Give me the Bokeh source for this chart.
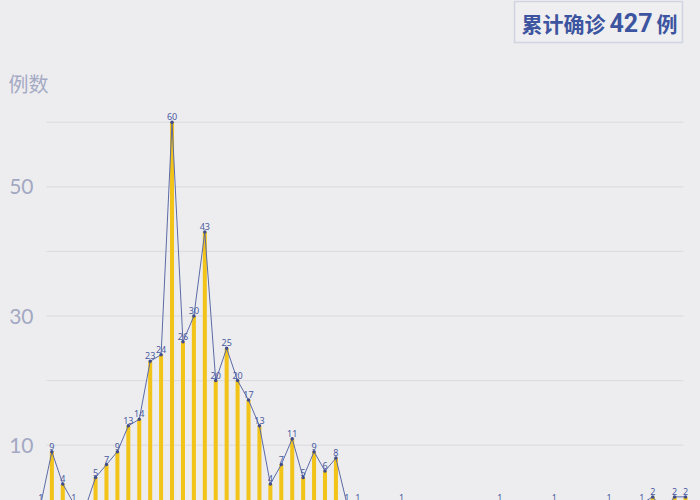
from bokeh.plotting import figure
from bokeh.models import ColumnDataSource, FixedTicker, Label, BoxAnnotation, Range1d
from bokeh.core.properties import value
from bokeh.embed import file_html
from bokeh.resources import INLINE

# ---- data ----
days = list(range(60))
cases = [1, 9, 4, 1, 0, 5, 7, 9, 13, 14,
         23, 24, 60, 26, 30, 43, 20, 25, 20, 17,
         13, 4, 7, 11, 5, 9, 6, 8, 1, 1,
         0, 0, 0, 1, 0, 0, 0, 0, 0, 0,
         0, 0, 1, 0, 0, 0, 0, 1, 0, 0,
         0, 0, 1, 0, 0, 1, 2, 0, 2, 2]
y_tick_labels = [10, 30, 50]
grid_values = [10, 20, 30, 40, 50, 60]
total_text = "累计确诊"
total_value = "427"
total_unit = "例"
y_title = "例数"

labels = [str(c) if c else "" for c in cases]

BG = "#EDEDEF"

src = ColumnDataSource(dict(x=days, v=cases, lbl=labels))

p = figure(width=700, height=500, output_backend="svg", toolbar_location=None,
           x_range=Range1d(-3.70, 60.37), y_range=Range1d(1.44, 78.84),
           min_border_left=0, min_border_right=0, min_border_top=0, min_border_bottom=0)
p.background_fill_color = BG
p.border_fill_color = BG
p.outline_line_color = None
p.xaxis.visible = False
p.xgrid.visible = False
p.ygrid.visible = False

ya = p.yaxis[0]
ya.fixed_location = -0.13
ya.ticker = FixedTicker(ticks=y_tick_labels)
ya.axis_line_color = None
ya.major_tick_line_color = None
ya.minor_tick_line_color = None
ya.major_label_standoff = 0
ya.major_label_text_font_size = "21px"
ya.major_label_text_color = "#A3A8C2"
ya.major_label_text_font = "Lato"

# gridlines (limited horizontal extent)
p.segment(x0=[0.51] * len(grid_values), x1=[58.81] * len(grid_values),
          y0=grid_values, y1=grid_values, line_color="#DADADF", line_width=1)

p.vbar(x="x", top="v", bottom=0, width=0.37, source=src,
       fill_color="#F2C318", line_color=None)
p.line(x="x", y="v", source=src, line_color="#5B6AA5", line_width=1)
p.scatter(x="x", y="v", source=src, size=3.5, fill_color="#3F4D8A", line_color=None)
p.text(x="x", y="v", text="lbl", source=src, text_align="center", text_baseline="bottom",
       y_offset=-2, text_font_size="9px", text_color="#4A5AA0", text_font=value("Noto Sans"))

# total box
p.add_layout(BoxAnnotation(left=43.35, right=58.72, top=78.68, bottom=72.34,
                           fill_color="#EFEFF1", fill_alpha=1.0,
                           line_color="#8D99BC", line_width=1.5, level="underlay"))
common = dict(x_units="screen", y_units="screen", text_baseline="middle",
              text_color="#3D55A0", text_font_style="bold")
p.add_layout(Label(x=521, y=478, text=total_text, text_font_size="21px", text_align="left",
                   text_font="Noto Sans CJK SC", **common))
p.add_layout(Label(x=609, y=478, text=total_value, text_font_size="25px", text_align="left",
                   text_font="Roboto", **common))
p.add_layout(Label(x=677, y=478, text=total_unit, text_font_size="21px", text_align="right",
                   text_font="Noto Sans CJK SC", **common))

p.add_layout(Label(x=28, y=417, x_units="screen", y_units="screen", text=y_title,
                   text_align="center", text_baseline="middle", text_font_size="20px",
                   text_color="#A5AAC4", text_font="Noto Sans CJK SC"))

html = file_html(p, INLINE)
html = html.replace("<head>", "<head><style>html,body{background:#EDEDEF;}</style>", 1)
open("out.html", "w").write(html)
